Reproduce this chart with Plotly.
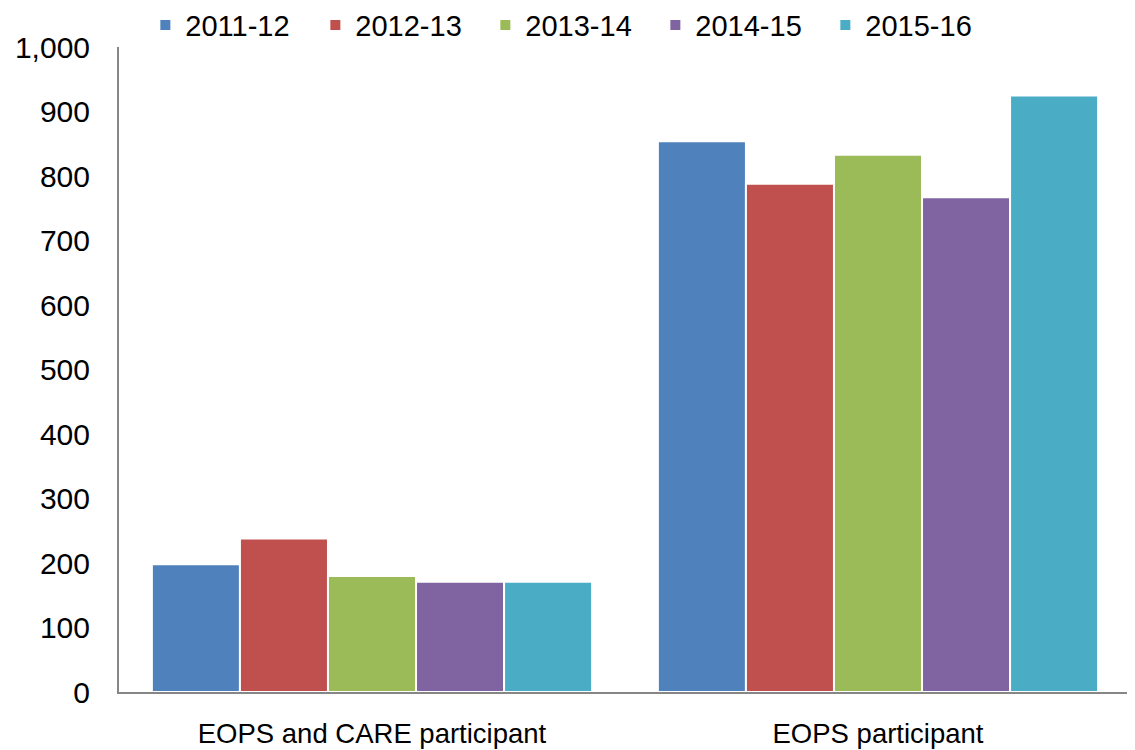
import plotly.graph_objects as go

categories = ["EOPS and CARE participant", "EOPS participant"]
series_names = ["2011-12", "2012-13", "2013-14", "2014-15", "2015-16"]
values = {
    "2011-12": [198, 854],
    "2012-13": [238, 788],
    "2013-14": [180, 833],
    "2014-15": [171, 767],
    "2015-16": [171, 925],
}
colors = ["#4F81BD", "#C0504D", "#9BBB59", "#8064A2", "#4BACC6"]
y_ticks = [0, 100, 200, 300, 400, 500, 600, 700, 800, 900, 1000]
y_ticktext = ["0", "100", "200", "300", "400", "500", "600", "700", "800", "900", "1,000"]

FONT = "Liberation Sans, Arial, sans-serif"

fig = go.Figure()
for name, col in zip(series_names, colors):
    fig.add_trace(go.Bar(
        x=categories, y=values[name], name=name,
        marker=dict(color=col, line=dict(color="white", width=2)),
    ))

fig.update_layout(
    width=1127, height=742,
    paper_bgcolor="white", plot_bgcolor="white",
    barmode="group", bargap=0.13, bargroupgap=0,
    margin=dict(l=111, r=4, t=39, b=58, autoexpand=False),
    font=dict(family=FONT, color="black", size=29),
    showlegend=True,
    legend=dict(
        orientation="h", x=0.446, xanchor="center", y=1.034, yanchor="middle",
        font=dict(size=29, family=FONT), entrywidth=125, entrywidthmode="pixels",
        itemclick=False, bgcolor="rgba(0,0,0,0)",
        traceorder="normal",
    ),
)
fig.update_yaxes(
    range=[0, 1000], tickvals=y_ticks, ticktext=y_ticktext,
    showgrid=False, zeroline=False, automargin=False,
    showline=True, linecolor="#868686", linewidth=2,
    ticks="", ticklabelstandoff=21,
    tickfont=dict(size=30, family=FONT),
)
fig.update_xaxes(
    showgrid=False, showline=True, linecolor="#868686", linewidth=2,
    ticks="", ticklabelstandoff=16, automargin=False,
    tickfont=dict(size=27.5, family=FONT),
)

fig.write_html("out.html")
